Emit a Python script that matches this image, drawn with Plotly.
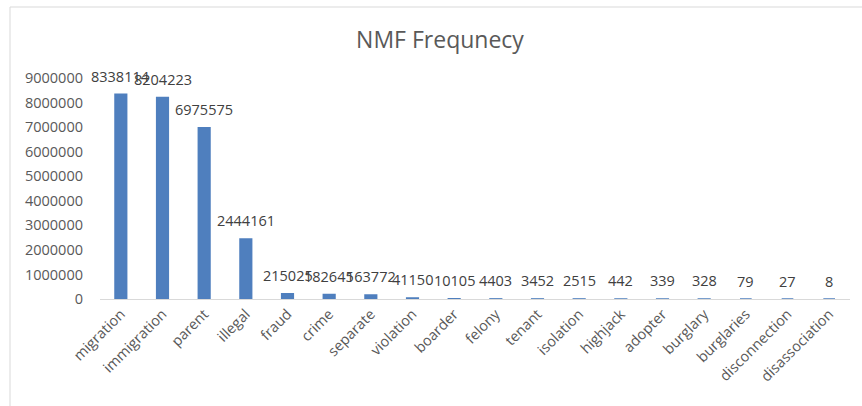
import plotly.graph_objects as go

# Topic terms and their NMF frequency counts
terms = [
    "migration", "immigration", "parent", "illegal", "fraud", "crime",
    "separate", "violation", "boarder", "felony", "tenant", "isolation",
    "highjack", "adopter", "burglary", "burglaries", "disconnection",
    "disassociation",
]
counts = [
    8338114, 8204223, 6975575, 2444161, 215025, 182645,
    163772, 41150, 10105, 4403, 3452, 2515,
    442, 339, 328, 79, 27, 8,
]
y_ticks = list(range(0, 9000001, 1000000))

W, H = 862, 406
L, R, T, B = 100, 12, 78, 107
PW, PH = W - L - R, H - T - B


def px_x(px):
    return (px - L) / PW


def px_y(py):
    return (H - B - py) / PH


BAR = "#4F7FBE"
FONT = "Open Sans"

fig = go.Figure(
    go.Bar(
        x=terms,
        y=counts,
        marker=dict(color=BAR, line=dict(color=BAR, width=1.5)),
        width=0.28,
        hoverinfo="x+y",
    )
)

# value labels floating above each bar
for term, value in zip(terms, counts):
    fig.add_annotation(
        x=term, y=value, text=str(value),
        showarrow=False, yanchor="middle", yshift=18,
        font=dict(family=FONT, size=14.5, color="#404040"),
    )

fig.update_layout(
    width=W,
    height=H,
    margin=dict(l=L, r=R, t=T, b=B),
    paper_bgcolor="white",
    plot_bgcolor="white",
    showlegend=False,
    title=dict(
        text="NMF Frequnecy",
        x=440 / W,
        xanchor="center",
        y=1 - 40 / H,
        yanchor="middle",
        font=dict(family=FONT, size=23, color="#595959"),
    ),
    xaxis=dict(
        type="category",
        range=[-0.5, len(terms) - 0.5],
        automargin=False,
        showgrid=False,
        showline=True,
        linecolor="#D9D9D9",
        linewidth=1,
        tickangle=-45,
        ticks="",
        tickfont=dict(family=FONT, size=14.5, color="#595959"),
    ),
    yaxis=dict(
        range=[0, 9000000],
        automargin=False,
        tickvals=y_ticks,
        ticktext=[str(v) for v in y_ticks],
        showgrid=False,
        zeroline=False,
        showline=False,
        ticks="",
        ticklabelstandoff=16,
        tickfont=dict(family=FONT, size=14.5, color="#595959"),
    ),
    shapes=[
        # chart-area border (left and top edges)
        dict(type="line", xref="paper", yref="paper",
             x0=px_x(10), x1=px_x(10), y0=px_y(7), y1=px_y(H + 5),
             line=dict(color="#D9D9D9", width=1)),
        dict(type="line", xref="paper", yref="paper",
             x0=px_x(10), x1=px_x(W + 5), y0=px_y(7), y1=px_y(7),
             line=dict(color="#D9D9D9", width=1)),
    ],
)

fig.write_html("out.html")
